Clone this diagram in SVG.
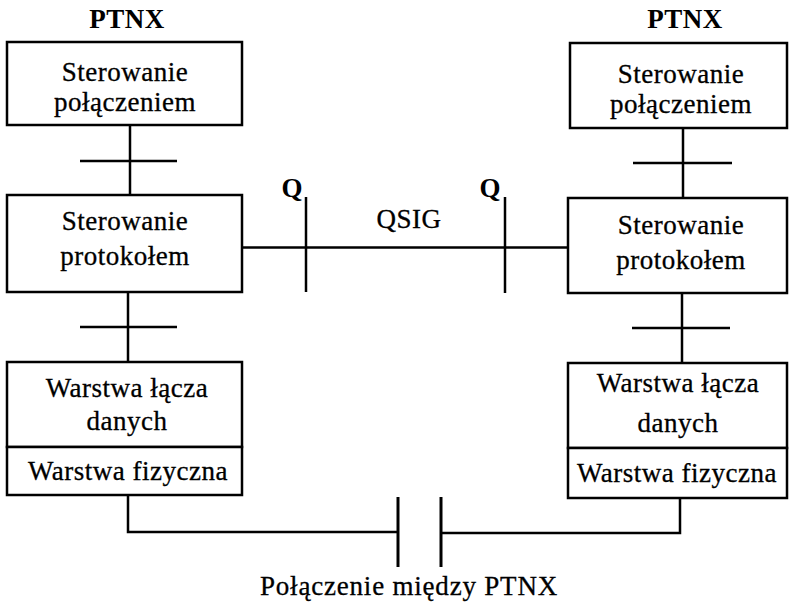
<svg xmlns="http://www.w3.org/2000/svg" width="789" height="608" viewBox="0 0 789 608">
<style>
.box{fill:#fff;stroke:#000;stroke-width:2.5}
.ln{fill:none;stroke:#000;stroke-width:2.5}
text{font-family:"Liberation Serif","Times New Roman",serif;font-size:27px;fill:#000;text-anchor:middle;letter-spacing:0.5px;stroke:#000;stroke-width:0.3}
.b{font-weight:bold;stroke-width:0}
</style>
<rect width="789" height="608" fill="#fff"/>
<g id="connectors">
<line class="ln" x1="130" y1="125" x2="130" y2="195"/>
<line class="ln" x1="80" y1="161" x2="177" y2="161"/>
<line class="ln" x1="128" y1="292" x2="128" y2="362"/>
<line class="ln" x1="80" y1="327" x2="177" y2="327"/>
<line class="ln" x1="683" y1="128" x2="683" y2="198"/>
<line class="ln" x1="633" y1="163" x2="732" y2="163"/>
<line class="ln" x1="682" y1="293" x2="682" y2="363"/>
<line class="ln" x1="632" y1="328" x2="730" y2="328"/>
<line class="ln" x1="242" y1="247.5" x2="568" y2="247.5"/>
<line class="ln" x1="306" y1="197" x2="306" y2="292"/>
<line class="ln" x1="505" y1="197" x2="505" y2="293"/>
<polyline class="ln" points="128,495 128,532 398,532"/>
<polyline class="ln" points="680,498 680,533 441,533"/>
<line class="ln" x1="398" y1="497" x2="398" y2="567" style="stroke-width:3"/>
<line class="ln" x1="441" y1="497" x2="441" y2="567" style="stroke-width:3"/>
</g>
<g id="label-ptnx-left"><text class="b" x="127" y="28">PTNX</text></g>
<g id="label-ptnx-right"><text class="b" x="685" y="28">PTNX</text></g>
<g id="label-q-left"><text class="b" x="292" y="197" style="letter-spacing:0">Q</text></g>
<g id="label-q-right"><text class="b" x="490" y="197" style="letter-spacing:0">Q</text></g>
<g id="label-qsig"><text x="409" y="228">QSIG</text></g>
<g id="label-bottom"><text x="409" y="595" style="letter-spacing:0.8px">Połączenie między PTNX</text></g>
<g id="left-call">
<rect class="box" x="7" y="42" width="235" height="83"/>
<text x="125" y="81">Sterowanie</text>
<text x="125" y="111">połączeniem</text>
</g>
<g id="left-proto">
<rect class="box" x="7" y="195" width="235" height="97"/>
<text x="125" y="230">Sterowanie</text>
<text x="125" y="265">protokołem</text>
</g>
<g id="left-link">
<rect class="box" x="7" y="362" width="235" height="85"/>
<text x="127" y="397">Warstwa łącza</text>
<text x="127" y="430">danych</text>
</g>
<g id="left-phys">
<rect class="box" x="7" y="447" width="235" height="48"/>
<text x="128" y="480">Warstwa fizyczna</text>
</g>
<g id="right-call">
<rect class="box" x="570" y="43" width="217" height="85"/>
<text x="681" y="83">Sterowanie</text>
<text x="681" y="113">połączeniem</text>
</g>
<g id="right-proto">
<rect class="box" x="568" y="198" width="219" height="95"/>
<text x="681" y="234">Sterowanie</text>
<text x="681" y="269">protokołem</text>
</g>
<g id="right-link">
<rect class="box" x="568" y="363" width="219" height="85"/>
<text x="678" y="392">Warstwa łącza</text>
<text x="678" y="432">danych</text>
</g>
<g id="right-phys">
<rect class="box" x="568" y="448" width="219" height="50"/>
<text x="677" y="482">Warstwa fizyczna</text>
</g>
</svg>
